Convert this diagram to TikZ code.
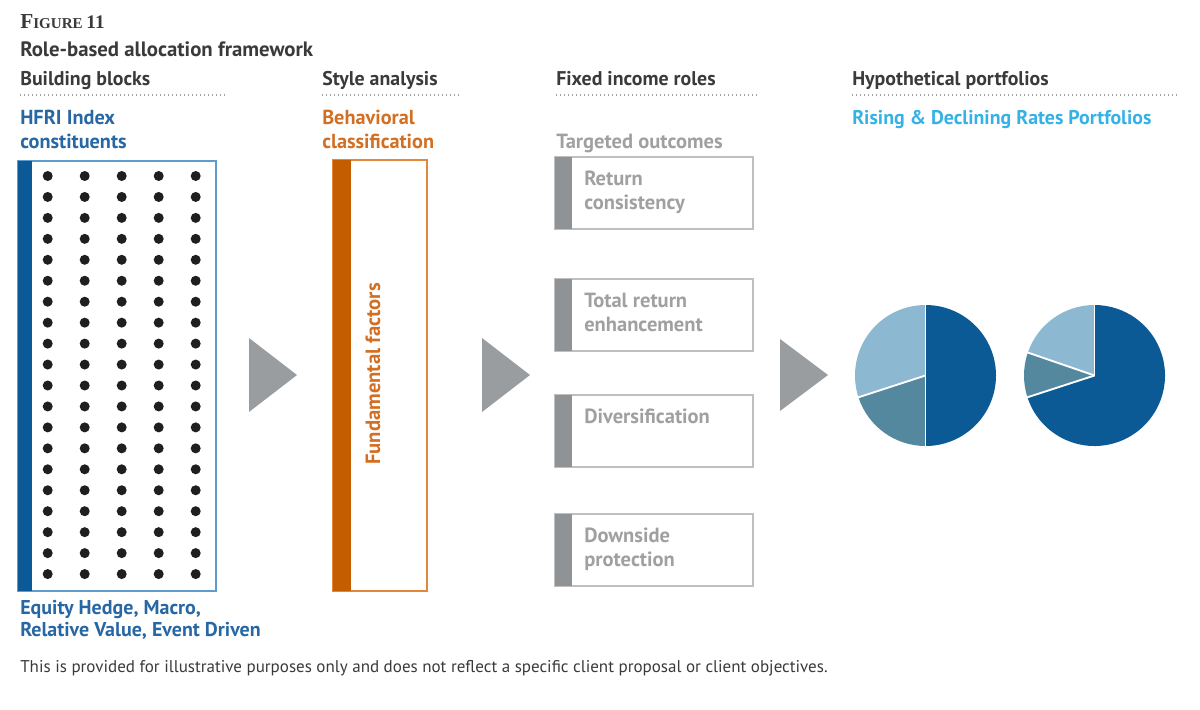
\documentclass[tikz,border=0pt]{standalone}
\usepackage{fontspec}
\setmainfont{PT Sans}
\newfontfamily\figfont{Liberation Serif}
\usetikzlibrary{positioning}
\definecolor{ink}{HTML}{3A3A3A}
\definecolor{hfBlue}{HTML}{2767A3}
\definecolor{bBar}{HTML}{0B5A97}
\definecolor{bLine}{HTML}{5E9BD0}
\definecolor{orText}{HTML}{D36F22}
\definecolor{orBar}{HTML}{C45C00}
\definecolor{orLine}{HTML}{E3883A}
\definecolor{grText}{HTML}{A0A0A0}
\definecolor{grBar}{HTML}{8F9396}
\definecolor{grLine}{HTML}{BFBFBF}
\definecolor{sky}{HTML}{34B1E5}
\definecolor{arrowGr}{HTML}{9A9DA0}
\definecolor{pieDark}{HTML}{0B5A96}
\definecolor{pieMid}{HTML}{54889F}
\definecolor{pieLight}{HTML}{8CB8D1}

\begin{document}
\begin{tikzpicture}[x=0.75pt,y=-0.75pt,
      txt/.style={inner sep=0pt,anchor=base west,align=left,
                  font=\bfseries\fontsize{14.9}{18}\selectfont},
      head/.style={txt,text=ink},
      role/.style={txt,text=grText,font=\bfseries\fontsize{15.4}{18}\selectfont},
      rule/.style={draw=grText,line width=0.9pt,dash pattern=on 1.1pt off 1.9pt},
      rolebox/.style={draw=grLine,line width=0.8pt}]
    \useasboundingbox (0,0) rectangle (1200,710);
    % title block
    \node[inner sep=0pt,anchor=base west,text=ink] (fig) at (20,29)
      {\figfont\bfseries\fontsize{16}{18}\selectfont F\fontsize{11.3}{12}\selectfont IGURE \fontsize{14.4}{16}\selectfont 11};
    \node[head,font=\bfseries\fontsize{15.6}{18}\selectfont] (title) at (20,57) {Role-based allocation framework};
    \node[head] (h1) at (20,86)  {Building blocks};
    \node[head] (h2) at (322,86) {Style analysis};
    \node[head] (h3) at (556,86) {Fixed income roles};
    \node[head] (h4) at (852,86) {Hypothetical portfolios};
    \draw[rule] (20,95) -- (225,95);
    \draw[rule] (322,95) -- (459,95);
    \draw[rule] (556,95) -- (757,95);
    \draw[rule] (852,95) -- (1178,95);
    \node[txt,text=hfBlue,font=\bfseries\fontsize{15.2}{18}\selectfont] (hfri) at (20,148) {HFRI Index\\constituents};
    \node[txt,text=orText,font=\bfseries\fontsize{15.2}{18}\selectfont] (behav) at (322,148) {Behavioral\\classification};
    \node[role] (targ) at (556,148) {Targeted outcomes};
    \node[txt,text=sky] (rates) at (852,124) {Rising \& Declining Rates Portfolios};

    % building blocks
    \draw[bLine,line width=0.9pt] (18,161) rectangle (216,591);
    \fill[bBar] (18,161) rectangle (32,591);
    \foreach \c in {0,...,4}
      \foreach \r in {0,...,19}
        \fill[black!88] (47.7+37*\c,176+20.95*\r) circle[radius=5];
    \node[txt,text=hfBlue,font=\bfseries\fontsize{15}{16.5}\selectfont] (strat) at (20,636) {Equity Hedge, Macro,\\Relative Value, Event Driven};

    % style analysis
    \draw[orLine,line width=0.9pt] (333,160) rectangle (427,591);
    \fill[orBar] (333,160) rectangle (351,591);
    \node[inner sep=0pt,rotate=90,text=orText,font=\bfseries\fontsize{15.5}{18}\selectfont] (fund) at (373,374) {Fundamental factors};

    % arrows
    \fill[arrowGr] (249,338) -- (297,375) -- (249,412) -- cycle;
    \fill[arrowGr] (482,338) -- (530,375) -- (482,412) -- cycle;
    \fill[arrowGr] (780,339) -- (828,375) -- (780,411) -- cycle;

    % fixed income roles
    \foreach \y/\b/\t [count=\i] in {157/52/{Return\\consistency},279/52/{Total return\\enhancement},
                                     395/28/{Diversification},514/52/{Downside\\protection}}{
      \draw[rolebox] (555,\y) rectangle (753,\y+72);
      \fill[grBar] (555,\y) rectangle (572,\y+72);
      \node[role] (role\i) at (584,\y+\b) {\t};
    }

    % portfolios
    \begin{scope}[shift={(925.5,375.5)},yscale=-1]
      \fill[pieDark]  (0,0) -- (-90:70.5) arc[start angle=-90,end angle=90,radius=70.5] -- cycle;
      \fill[pieLight] (0,0) -- (90:70.5) arc[start angle=90,end angle=198,radius=70.5] -- cycle;
      \fill[pieMid]   (0,0) -- (198:70.5) arc[start angle=198,end angle=270,radius=70.5] -- cycle;
      \foreach \a in {90,198,270} \draw[white,line width=1.4pt] (0,0) -- (\a:71);
    \end{scope}
    \begin{scope}[shift={(1094.5,375.5)},yscale=-1]
      \fill[pieLight] (0,0) -- (90:70.5) arc[start angle=90,end angle=161,radius=70.5] -- cycle;
      \fill[pieMid]   (0,0) -- (161:70.5) arc[start angle=161,end angle=198,radius=70.5] -- cycle;
      \fill[pieDark]  (0,0) -- (198:70.5) arc[start angle=198,end angle=450,radius=70.5] -- cycle;
      \foreach \a in {90,161,198} \draw[white,line width=1.4pt] (0,0) -- (\a:71);
    \end{scope}

    \node[txt,text=ink,font=\fontsize{12.75}{14}\selectfont] (note) at (20,672)
      {This is provided for illustrative purposes only and does not reflect a specific client proposal or client objectives.};
  \end{tikzpicture}
\end{document}
